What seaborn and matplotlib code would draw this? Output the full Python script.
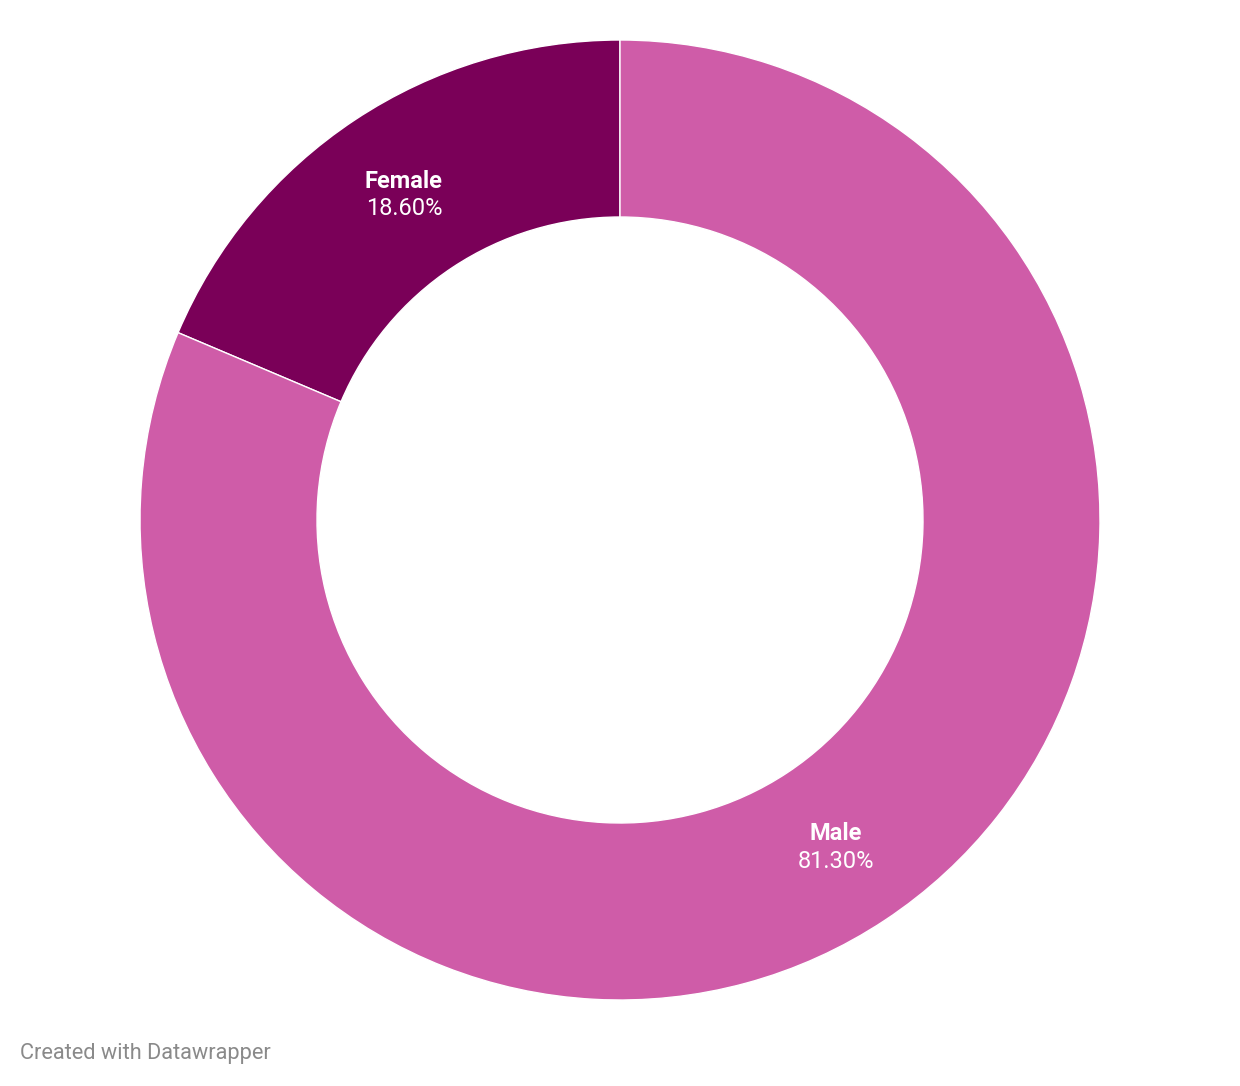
import numpy as np
import matplotlib.pyplot as plt
import seaborn as sns

# data
labels = ['Female', 'Male']
values = [18.6, 81.3]
value_labels = ['18.60%', '81.30%']
colors = ['#7a0058', '#cf5ca8']

sns.set_style('white')
plt.rcParams['font.family'] = ['Roboto', 'DejaVu Sans']

fig = plt.figure(figsize=(12.4, 10.86), dpi=100)
ax = fig.add_axes([140 / 1240, 86 / 1086, 960 / 1240, 960 / 1086])

inner = 303 / 480
ring_w = 1 - inner
wedges, _ = ax.pie(values, colors=colors, startangle=90, counterclock=True,
                   radius=1, wedgeprops=dict(width=ring_w, edgecolor='white', linewidth=1))

# labels in the middle of the ring
r_mid = (1 + inner) / 2
for w, lab, val in zip(wedges, labels, value_labels):
    ang = np.deg2rad((w.theta1 + w.theta2) / 2)
    x, y = r_mid * np.cos(ang), r_mid * np.sin(ang)
    ax.text(x, y + 0.026, lab, ha='center', va='center', color='white',
            fontsize=17, fontweight='bold')
    ax.text(x, y - 0.032, val, ha='center', va='center', color='white',
            fontsize=17)

ax.set_xlim(-1, 1)
ax.set_ylim(-1, 1)
ax.set_aspect('equal')
ax.axis('off')

fig.text(20 / 1240, 1 - 1053 / 1086, 'Created with Datawrapper', ha='left', va='center',
         color='#8a8a8a', fontsize=15.7)

fig.savefig('out.png', dpi=100, facecolor='white')
